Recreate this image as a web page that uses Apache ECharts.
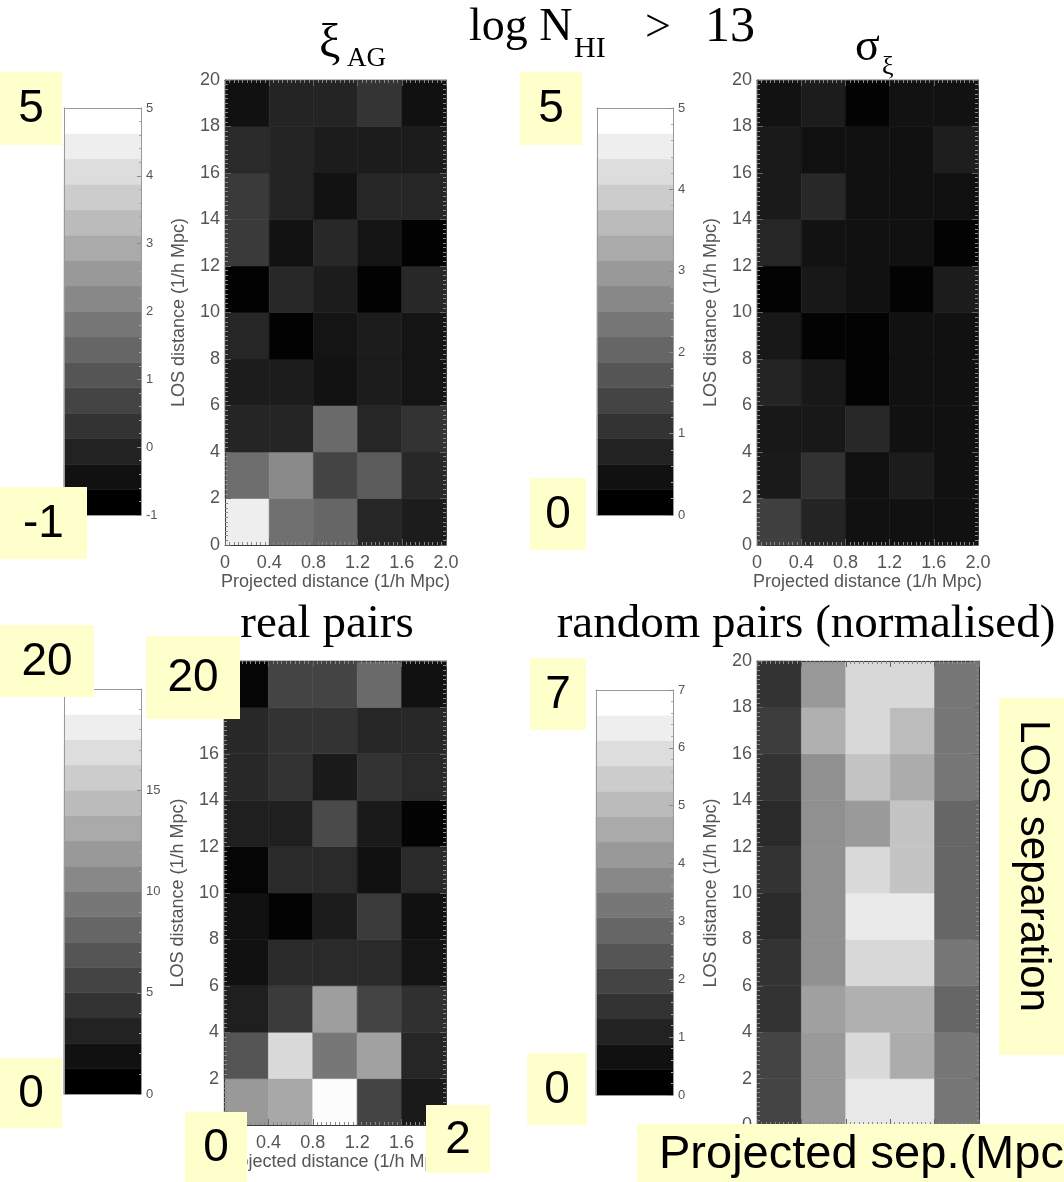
<!DOCTYPE html>
<html><head><meta charset="utf-8">
<script src="https://cdn.jsdelivr.net/npm/echarts@6/dist/echarts.min.js"></script>
<style>html,body{margin:0;padding:0;background:#fff}#c{width:1064px;height:1182px}</style>
</head><body><div id="c"></div>
<script>
// ---- data ----
const projEdges = [0, 0.4, 0.8, 1.2, 1.6, 2.0];
const losEdges = [0, 2, 4, 6, 8, 10, 12, 14, 16, 18, 20];
const projTickLabels = ['0', '0.4', '0.8', '1.2', '1.6', '2.0'];
// rows: LOS bins from 0-2 upward; columns: projected-distance bins
const xiAG = [
  [4.60, 1.64, 1.40, -0.11, -0.34],
  [1.59, 2.25, 0.60, 1.16, -0.06],
  [-0.13, -0.13, 1.49, -0.11, 0.20],
  [-0.34, -0.34, -0.58, -0.34, -0.53],
  [-0.11, -0.95, -0.53, -0.34, -0.53],
  [-0.95, -0.06, -0.34, -0.95, -0.06],
  [0.36, -0.58, -0.06, -0.53, -0.95],
  [0.36, -0.15, -0.58, -0.11, -0.11],
  [-0.01, -0.15, -0.34, -0.34, -0.34],
  [-0.60, -0.15, -0.15, 0.22, -0.60]
];
const sigmaXi = [
  [1.25, 0.71, 0.33, 0.33, 0.33],
  [0.51, 0.98, 0.31, 0.55, 0.33],
  [0.47, 0.47, 0.78, 0.33, 0.33],
  [0.71, 0.47, 0.06, 0.33, 0.33],
  [0.47, 0.06, 0.06, 0.33, 0.33],
  [0.06, 0.47, 0.33, 0.06, 0.55],
  [0.75, 0.35, 0.33, 0.33, 0.06],
  [0.51, 0.78, 0.33, 0.33, 0.31],
  [0.51, 0.31, 0.33, 0.33, 0.59],
  [0.35, 0.55, 0.06, 0.35, 0.35]
];
const realPairs = [
  [12.0, 13.2, 19.8, 5.3, 2.0],
  [6.7, 17.1, 9.3, 12.6, 3.0],
  [2.4, 4.6, 12.4, 5.3, 3.8],
  [1.3, 3.3, 3.3, 3.3, 1.6],
  [1.3, 0.2, 2.2, 4.6, 1.3],
  [0.4, 3.3, 3.3, 1.3, 3.3],
  [2.4, 2.4, 5.8, 2.0, 0.2],
  [3.1, 4.0, 2.0, 4.0, 3.3],
  [3.1, 4.0, 4.0, 3.0, 3.1],
  [0.4, 5.3, 5.3, 8.3, 1.3]
];
const randomPairs = [
  [1.87, 4.20, 6.37, 6.37, 3.27],
  [1.87, 4.20, 5.98, 4.72, 3.27],
  [1.40, 4.39, 4.83, 4.83, 2.80],
  [1.40, 3.95, 5.93, 5.93, 3.27],
  [1.15, 3.95, 6.42, 6.42, 2.80],
  [1.40, 3.95, 5.98, 5.38, 2.80],
  [1.15, 3.95, 4.23, 5.38, 2.80],
  [1.40, 3.95, 5.38, 4.72, 3.27],
  [1.65, 4.83, 5.93, 5.16, 3.27],
  [1.40, 4.20, 5.93, 5.93, 3.27]
];
const xiAGRange = [-1, 5];
const sigmaRange = [0, 5];
const realRange = [0, 20];
const randomRange = [0, 7];
const colorbarSteps = [1, 1, 5, 1];
const nLevels = 16;

// ---- layout ----
const SANS = '"Liberation Sans", Arial, sans-serif';
const SERIF = '"Liberation Serif", "Times New Roman", serif';
const panels = [
  {values: xiAG, range: xiAGRange, step: colorbarSteps[0],
   hm: {left: 225, top: 80, width: 221, height: 465}, cb: {left: 64, top: 108, width: 77, height: 407}},
  {values: sigmaXi, range: sigmaRange, step: colorbarSteps[1],
   hm: {left: 757, top: 80, width: 221, height: 465}, cb: {left: 597, top: 108, width: 76, height: 407}},
  {values: realPairs, range: realRange, step: colorbarSteps[2],
   hm: {left: 224, top: 661, width: 222, height: 464}, cb: {left: 64, top: 689, width: 77, height: 405}},
  {values: randomPairs, range: randomRange, step: colorbarSteps[3],
   hm: {left: 757, top: 661, width: 222, height: 464}, cb: {left: 596, top: 690, width: 77, height: 405}}
];

function grayCont(v, r) {
  let t = (v - r[0]) / (r[1] - r[0]);
  t = Math.max(0, Math.min(1, t));
  const g = Math.round(t * 255);
  return 'rgb(' + g + ',' + g + ',' + g + ')';
}
function grayLevel(k) {
  const g = Math.round(k * 255 / (nLevels - 1));
  return 'rgb(' + g + ',' + g + ',' + g + ')';
}
function rectItem(api, fill) {
  const a = api.coord([api.value(0), api.value(2)]);
  const b = api.coord([api.value(1), api.value(3)]);
  return {
    type: 'rect',
    shape: {x: Math.min(a[0], b[0]), y: Math.min(a[1], b[1]), width: Math.abs(b[0] - a[0]), height: Math.abs(b[1] - a[1])},
    style: {fill: fill, stroke: fill, lineWidth: 0.6}
  };
}

const grids = [], xAxes = [], yAxes = [], series = [];
const frameLine = {show: true, onZero: false, lineStyle: {color: '#3a3a3a', width: 1}};
const majorTick = {show: true, inside: true, length: 6, lineStyle: {color: '#666', width: 1}};
const minorTick = {show: true, splitNumber: 10, length: 3, lineStyle: {color: '#888', width: 1}};
const noSplit = {show: false};
const tickFont = {fontSize: 18, color: '#555', fontFamily: SANS};

panels.forEach(function (p) {
  const gH = grids.length;
  grids.push(Object.assign({containLabel: false, outerBoundsMode: 'none'}, p.hm));
  const gC = grids.length;
  grids.push(Object.assign({containLabel: false, outerBoundsMode: 'none'}, p.cb));

  const xMin = projEdges[0], xMax = projEdges[projEdges.length - 1], xStep = projEdges[1] - projEdges[0];
  const yMin = losEdges[0], yMax = losEdges[losEdges.length - 1], yStep = losEdges[1] - losEdges[0];

  const xb = xAxes.length;
  xAxes.push({gridIndex: gH, type: 'value', position: 'bottom', min: xMin, max: xMax, interval: xStep, z: 10,
    axisLine: frameLine, axisTick: majorTick, minorTick: minorTick, splitLine: noSplit, minorSplitLine: noSplit,
    axisLabel: Object.assign({margin: 9, formatter: function (v, i) { return projTickLabels[i]; }}, tickFont),
    name: 'Projected distance (1/h Mpc)', nameLocation: 'middle', nameGap: 28, nameMoveOverlap: false,
    nameTextStyle: tickFont});
  xAxes.push({gridIndex: gH, type: 'value', position: 'top', min: xMin, max: xMax, interval: xStep, z: 10,
    axisLine: frameLine, axisTick: majorTick, minorTick: minorTick, splitLine: noSplit, minorSplitLine: noSplit,
    axisLabel: {show: false}});
  const yl = yAxes.length;
  yAxes.push({gridIndex: gH, type: 'value', position: 'left', min: yMin, max: yMax, interval: yStep, z: 10,
    axisLine: frameLine, axisTick: majorTick, minorTick: minorTick, splitLine: noSplit, minorSplitLine: noSplit,
    axisLabel: Object.assign({margin: 5}, tickFont),
    name: 'LOS distance (1/h Mpc)', nameLocation: 'middle', nameGap: 37, nameMoveOverlap: false,
    nameTextStyle: tickFont});
  yAxes.push({gridIndex: gH, type: 'value', position: 'right', min: yMin, max: yMax, interval: yStep, z: 10,
    axisLine: frameLine, axisTick: majorTick, minorTick: minorTick, splitLine: noSplit, minorSplitLine: noSplit,
    axisLabel: {show: false}});

  const cells = [];
  p.values.forEach(function (row, r) {
    row.forEach(function (v, c) {
      cells.push([projEdges[c], projEdges[c + 1], losEdges[r], losEdges[r + 1], v]);
    });
  });
  const rng = p.range;
  series.push({type: 'custom', xAxisIndex: xb, yAxisIndex: yl, data: cells, encode: {x: [0, 1], y: [2, 3]},
    silent: true, z: 2,
    renderItem: function (params, api) { return rectItem(api, grayCont(api.value(4), rng)); }});

  // colorbar
  const cx = xAxes.length;
  const cbLine = {show: true, onZero: false, lineStyle: {color: '#999', width: 1}};
  xAxes.push({gridIndex: gC, type: 'value', position: 'bottom', min: 0, max: 1, z: 10, axisLine: cbLine,
    axisTick: {show: false}, axisLabel: {show: false}, splitLine: noSplit});
  xAxes.push({gridIndex: gC, type: 'value', position: 'top', min: 0, max: 1, z: 10, axisLine: cbLine,
    axisTick: {show: false}, axisLabel: {show: false}, splitLine: noSplit});
  const cy = yAxes.length;
  yAxes.push({gridIndex: gC, type: 'value', position: 'right', min: rng[0], max: rng[1], interval: p.step, z: 10,
    axisLine: cbLine, axisTick: {show: true, inside: true, length: 4, lineStyle: {color: '#888'}},
    minorTick: {show: true, splitNumber: 5, length: 2, lineStyle: {color: '#aaa'}},
    splitLine: noSplit, minorSplitLine: noSplit,
    axisLabel: {margin: 5, fontSize: 13, color: '#555', fontFamily: SANS}});
  yAxes.push({gridIndex: gC, type: 'value', position: 'left', min: rng[0], max: rng[1], z: 10, axisLine: cbLine,
    axisTick: {show: false}, axisLabel: {show: false}, splitLine: noSplit});
  const bands = [];
  for (let k = 0; k < nLevels; k++) {
    bands.push([0, 1, rng[0] + k * (rng[1] - rng[0]) / nLevels, rng[0] + (k + 1) * (rng[1] - rng[0]) / nLevels, k]);
  }
  series.push({type: 'custom', xAxisIndex: cx, yAxisIndex: cy, data: bands, encode: {x: [0, 1], y: [2, 3]},
    silent: true, z: 2,
    renderItem: function (params, api) { return rectItem(api, grayLevel(api.value(4))); }});
});

// ---- titles and annotation boxes ----
function txt(text, x, y, size, family, align, extra) {
  return Object.assign({type: 'text', x: x, y: y, z: 100, silent: true,
    style: {text: text, fill: '#000', fontSize: size, fontFamily: family,
      align: align, verticalAlign: 'middle', textAlign: align, textVerticalAlign: 'middle'}}, extra || {});
}
const graphics = [
  txt('log N', 469, 28, 46, SERIF, 'left'),
  txt('HI', 574, 49, 30, SERIF, 'left'),
  txt('>', 645, 29, 46, SERIF, 'left'),
  txt('13', 705, 28, 50, SERIF, 'left'),
  txt('\u03BE', 319, 44, 48, SERIF, 'left'),
  txt('AG', 347, 59, 27, SERIF, 'left'),
  txt('\u03C3', 855, 48, 46, SERIF, 'left'),
  txt('\u03BE', 882, 67, 26, SERIF, 'left'),
  txt('real pairs', 327, 625, 47, SERIF, 'center'),
  txt('random pairs (normalised)', 806, 625, 47, SERIF, 'center')
];
const boxes = [
  {x: 0, y: 72, w: 62, h: 73, t: '5'},
  {x: 0, y: 487, w: 87, h: 72, t: '-1'},
  {x: 520, y: 72, w: 62, h: 73, t: '5'},
  {x: 530, y: 478, w: 56, h: 72, t: '0'},
  {x: 0, y: 625, w: 94, h: 72, t: '20'},
  {x: 146, y: 636, w: 94, h: 83, t: '20'},
  {x: 0, y: 1058, w: 62, h: 70, t: '0'},
  {x: 185, y: 1112, w: 62, h: 70, t: '0'},
  {x: 426, y: 1105, w: 64, h: 68, t: '2'},
  {x: 530, y: 658, w: 56, h: 72, t: '7'},
  {x: 527, y: 1053, w: 60, h: 72, t: '0'}
];
boxes.forEach(function (b) {
  graphics.push({type: 'rect', z: 99, silent: true, shape: {x: b.x, y: b.y, width: b.w, height: b.h}, style: {fill: '#ffffcc'}});
  graphics.push(txt(b.t, b.x + b.w / 2, b.y + b.h / 2 + 1, 46, SANS, 'center'));
});
graphics.push({type: 'rect', z: 99, silent: true, shape: {x: 637, y: 1124, width: 427, height: 58}, style: {fill: '#ffffcc'}});
graphics.push(txt('Projected sep.(Mpc', 659, 1155, 47, SANS, 'left'));
graphics.push({type: 'rect', z: 99, silent: true, shape: {x: 999, y: 698, width: 65, height: 357}, style: {fill: '#ffffcc'}});
graphics.push(txt('LOS separation', 1033, 866, 42, SANS, 'center', {rotation: -Math.PI / 2}));

const chart = echarts.init(document.getElementById('c'), null, {renderer: 'canvas', width: 1064, height: 1182});
chart.setOption({
  animation: false,
  backgroundColor: '#fff',
  grid: grids,
  xAxis: xAxes,
  yAxis: yAxes,
  series: series,
  graphic: {elements: graphics}
});
</script>
</body></html>
